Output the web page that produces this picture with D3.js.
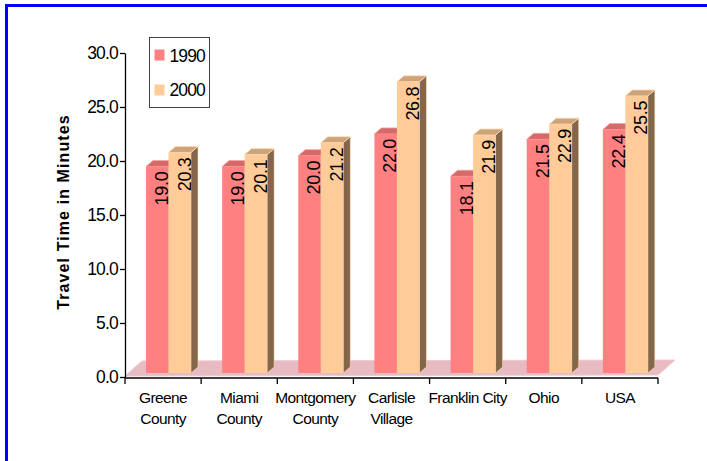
<!DOCTYPE html>
<html>
<head>
<meta charset="utf-8">
<script src="https://cdn.jsdelivr.net/npm/d3@7"></script>
<style>
  html, body { margin: 0; padding: 0; background: #fff; }
  svg text { font-family: "Liberation Sans", Arial, sans-serif; fill: #000; }
</style>
</head>
<body>
<svg class="main" width="707" height="461"></svg>
<script>
var CATEGORIES = ["Greene County", "Miami County", "Montgomery County", "Carlisle Village", "Franklin City", "Ohio", "USA"];
var CATEGORY_LINES = [["Greene", "County"], ["Miami", "County"], ["Montgomery", "County"], ["Carlisle", "Village"], ["Franklin City"], ["Ohio"], ["USA"]];
var SERIES = ["1990", "2000"];
var VALUES_1990 = [19.0, 19.0, 20.0, 22.0, 18.1, 21.5, 22.4];
var VALUES_2000 = [20.3, 20.1, 21.2, 26.8, 21.9, 22.9, 25.5];
var Y_TICKS = [0, 5, 10, 15, 20, 25, 30];
var Y_TITLE = "Travel Time in Minutes";

// front / top / side colours per series
var COLORS = {
  "1990": { front: "#FF8080", top: "#D46A6A", side: "#A85050", rim: "#FF9C9C" },
  "2000": { front: "#FFCC99", top: "#CCA37A", side: "#84664A", rim: "#FFDDB5" }
};

var BAR_DEPTH = { dx: 7, dy: -6 };
var FLOOR_DEPTH = { dx: 17, dy: -15 };

var svg = d3.select("svg.main");

function drawFrame() {
  svg.append("rect")
    .attr("x", 6.5)
    .attr("y", 5.5)
    .attr("width", 740)
    .attr("height", 500)
    .attr("fill", "none")
    .attr("stroke", "#0000FF")
    .attr("stroke-width", 3);
}

function main() {
  drawFrame();

  var rows = CATEGORIES.map(function(c, i) {
    return { name: c, lines: CATEGORY_LINES[i], values: { "1990": VALUES_1990[i], "2000": VALUES_2000[i] } };
  });

  var x0 = d3.scaleBand().domain(CATEGORIES).range([125, 658]).padding(0);
  var x1 = d3.scaleBand().domain(SERIES).range([21, 66]).padding(0);
  var y = d3.scaleLinear().domain([0, 30]).range([377, 53]);
  // bars sit slightly behind the front edge of the floor
  var barY = d3.scaleLinear().domain([0, 30]).range([373, 47]);

  // floor
  var fx0 = x0.range()[0], fx1 = x0.range()[1], fy = y(0) - 1;
  svg.append("polygon")
    .attr("points", [
      [fx0, fy], [fx0 + FLOOR_DEPTH.dx, fy + FLOOR_DEPTH.dy],
      [fx1 + FLOOR_DEPTH.dx, fy + FLOOR_DEPTH.dy - 1], [fx1, fy - 1]
    ].map(function(p) { return p.join(","); }).join(" "))
    .attr("fill", "#E8BBC3")
    .attr("stroke", "#F0C8D0")
    .attr("stroke-width", 1);

  // bars
  rows.forEach(function(r) {
    var g = svg.append("g");
    SERIES.forEach(function(s) {
      var c = COLORS[s];
      var xl = x0(r.name) + x1(s);
      var xr = xl + x1.bandwidth();
      var yt = barY(r.values[s]);
      var yb = barY(0);
      var dx = BAR_DEPTH.dx, dy = BAR_DEPTH.dy;

      g.append("polygon")
        .attr("points", [[xr, yt], [xr + dx, yt + dy], [xr + dx, yb + dy], [xr, yb]].join(" "))
        .attr("fill", c.side)
        .attr("stroke", c.rim)
        .attr("stroke-width", 0.6);
      g.append("polygon")
        .attr("points", [[xl, yt], [xl + dx, yt + dy], [xr + dx, yt + dy], [xr, yt]].join(" "))
        .attr("fill", c.top)
        .attr("stroke", c.rim)
        .attr("stroke-width", 0.8);
      g.append("rect")
        .attr("x", xl)
        .attr("y", yt)
        .attr("width", x1.bandwidth())
        .attr("height", yb - yt)
        .attr("fill", c.front);
    });
  });

  // value labels
  rows.forEach(function(r) {
    SERIES.forEach(function(s) {
      var xr = x0(r.name) + x1(s) + x1.bandwidth();
      var yt = barY(r.values[s]);
      svg.append("text")
        .attr("transform", "translate(" + (xr - 0.5) + "," + (yt + 5) + ")rotate(-90)")
        .attr("text-anchor", "end")
        .style("font-size", "18px")
        .style("letter-spacing", "-0.3px")
        .text(d3.format(".1f")(r.values[s]));
    });
  });

  // y axis
  var yAxis = d3.axisLeft(y)
    .tickValues(Y_TICKS)
    .tickFormat(d3.format(".1f"))
    .tickSize(5)
    .tickSizeOuter(0);
  var ya = svg.append("g")
    .attr("transform", "translate(125,0)")
    .call(yAxis);
  ya.select(".domain").attr("stroke", "#000").attr("stroke-width", 1.3);
  ya.selectAll(".tick line").attr("stroke", "#000").attr("stroke-width", 1.3);
  ya.selectAll(".tick text")
    .attr("x", -7)
    .style("font-size", "17.5px")
    .style("letter-spacing", "-0.8px")
    .style("font-family", "'Liberation Sans', Arial, sans-serif")
    .attr("fill", "#000");

  // x axis
  var xa = svg.append("g").attr("transform", "translate(0," + (y(0) + 1) + ")");
  xa.append("line")
    .attr("x1", x0.range()[0]).attr("x2", x0.range()[1])
    .attr("stroke", "#000").attr("stroke-width", 1.5);
  var bounds = CATEGORIES.map(function(c) { return x0(c); }).concat([x0.range()[1]]);
  xa.selectAll("line.tick").data(bounds).enter().append("line")
    .attr("class", "tick")
    .attr("x1", function(d) { return d; }).attr("x2", function(d) { return d; })
    .attr("y1", 0).attr("y2", 6)
    .attr("stroke", "#000").attr("stroke-width", 1.3);

  rows.forEach(function(r) {
    var t = svg.append("text")
      .attr("text-anchor", "middle")
      .style("font-size", "15.5px")
      .style("letter-spacing", "-0.6px");
    r.lines.forEach(function(line, i) {
      t.append("tspan")
        .attr("x", x0(r.name) + x0.bandwidth() / 2)
        .attr("y", 403 + i * 21)
        .text(line);
    });
  });

  // y title
  svg.append("text")
    .attr("transform", "translate(69,212)rotate(-90)")
    .attr("text-anchor", "middle")
    .style("font-size", "16px")
    .style("font-weight", "bold")
    .style("letter-spacing", "1.1px")
    .text(Y_TITLE);

  // legend
  var legend = svg.append("g").attr("transform", "translate(149.5,37.5)");
  legend.append("rect")
    .attr("width", 60)
    .attr("height", 70)
    .attr("fill", "#fff")
    .attr("stroke", "#404040")
    .attr("stroke-width", 1);
  SERIES.forEach(function(s, i) {
    legend.append("rect")
      .attr("x", 5)
      .attr("y", 12 + i * 35)
      .attr("width", 10)
      .attr("height", 11)
      .attr("fill", COLORS[s].front);
    legend.append("text")
      .attr("x", 20)
      .attr("y", 24.5 + i * 34)
      .style("font-size", "17.5px")
      .style("letter-spacing", "-0.9px")
      .text(s);
  });
}

main();
</script>
</body>
</html>
